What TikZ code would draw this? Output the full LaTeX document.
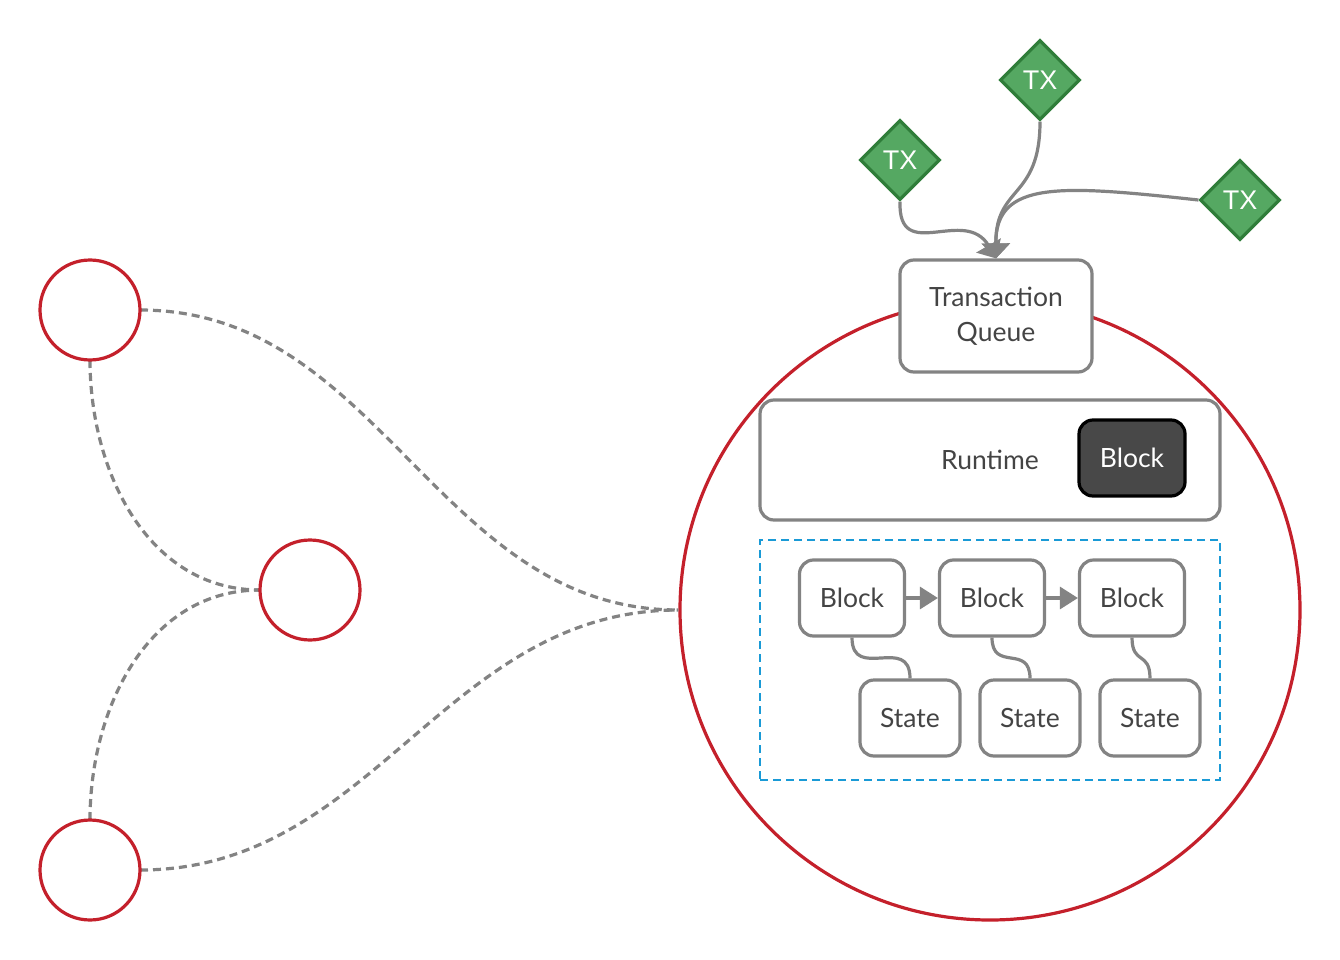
\documentclass[tikz,border=0pt]{standalone}
\usepackage{fontspec}
\setmainfont{Lato}
\newfontfamily\txfont{Liberation Sans}
\usetikzlibrary{shapes.geometric}
\usetikzlibrary{arrows.meta}

\definecolor{peerred}{HTML}{C4202B}
\definecolor{linegray}{HTML}{838383}
\definecolor{textgray}{HTML}{444444}
\definecolor{txgreen}{HTML}{55A862}
\definecolor{txborder}{HTML}{2F7D3A}
\definecolor{chainblue}{HTML}{1A9AD6}
\definecolor{darkblock}{HTML}{484848}

\begin{document}
\begin{tikzpicture}[x=1pt, y=-1pt,
  peer/.style={circle, draw=peerred, line width=3.2pt, fill=white, minimum size=100pt, inner sep=0pt},
  fullnode/.style={circle, draw=peerred, line width=3.2pt, minimum size=620pt, inner sep=0pt},
  box/.style={rectangle, rounded corners=14pt, draw=linegray, line width=3.2pt, fill=white,
    text=textgray, font=\fontsize{26.5}{35}\selectfont, align=center, inner sep=0pt},
  tx/.style={diamond, draw=txborder, fill=txgreen, line width=3.2pt, minimum width=80pt,
    minimum height=80pt, inner sep=0pt, text=white, font=\txfont\fontsize{27}{30}\selectfont},
  gossip/.style={draw=linegray, line width=3.2pt, dash pattern=on 8pt off 5pt},
  feed/.style={draw=linegray, line width=3.2pt, -{Triangle[length=15pt,width=28pt]}},
  chain/.style={draw=linegray, line width=3.2pt, -{Triangle[length=18pt,width=22pt]}},
  keeps/.style={draw=linegray, line width=3.2pt}]
\useasboundingbox (0,0) rectangle (1340,960);
%%% network of peers %%%

  \node[fullnode] (full) at (990,610) {};
  %%
  \draw[gossip] (140,310) to[out=0,in=180] (full.west);
  \draw[gossip] (140,870) to[out=0,in=180] (full.west);
  \draw[gossip] (90,360) to[out=-90,in=180] (260,590);
  \draw[gossip] (90,820) to[out=90,in=180] (260,590);
  %%
  \node[peer] (peerA) at (90,310) {};
  \node[peer] (peerB) at (310,590) {};
  \node[peer] (peerC) at (90,870) {};

%%% inside the full node %%%
  \node[box, minimum width=192pt, minimum height=112pt] (queue) at (996,316) {Transaction\\Queue};
  %%
  \node[box, minimum width=460pt, minimum height=120pt] (runtime) at (990,460) {};
  \node[text=textgray, font=\fontsize{26.5}{30}\selectfont] (rtlabel) at (990,460) {Runtime};
  \node[box, draw=black, fill=darkblock, text=white, minimum width=106pt, minimum height=76pt] (current) at (1132,458) {Block};
  %%
  \node[draw=chainblue, line width=2.6pt, dash pattern=on 8pt off 5pt, minimum width=460pt,
    minimum height=240pt, inner sep=0pt] (db) at (990,660) {};
  %
  \foreach \i/\x in {1/852, 2/992, 3/1132}
    \node[box, minimum width=105pt, minimum height=76pt] (block\i) at (\x,598) {Block};
  \foreach \i/\x in {1/910, 2/1030, 3/1150}
    \node[box, minimum width=100pt, minimum height=76pt] (state\i) at (\x,718) {State};
  %
  \draw[chain] (block1.east) -- (block2.west);
  \draw[chain] (block2.east) -- (block3.west);
  \foreach \i in {1,2,3}
    \draw[keeps] (block\i.south) to[out=-90,in=90,looseness=1.6] (state\i.north);

%%% incoming transactions %%%
  \node[tx] (txA) at (900,160) {TX};
  \node[tx] (txB) at (1040,80) {TX};
  \node[tx] (txC) at (1240,200) {TX};
  %%
  \draw[feed] (txA.south) .. controls (898,265) and (965,205) .. (queue.north);
  \draw[feed] (txB.south) .. controls (1040,200) and (995,185) .. (queue.north);
  \draw[feed] (txC.west) .. controls (1060,185) and (995,180) .. (queue.north);

\end{tikzpicture}
\end{document}
